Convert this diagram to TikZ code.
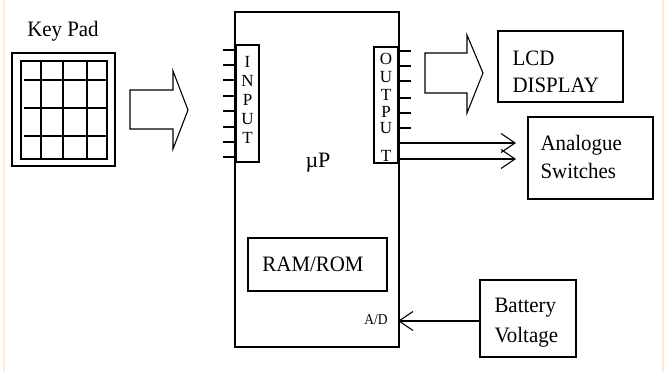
\documentclass[tikz,border=0pt]{standalone}
\usepackage{fontspec}
\setmainfont{Liberation Serif}
\usetikzlibrary{arrows.meta}
\definecolor{edgeline}{RGB}{253,236,200}
\begin{document}
\begin{tikzpicture}[x=1pt,y=-1pt, line width=1.1pt,
  box/.style={draw, inner sep=0pt, outer sep=0pt, anchor=north west},
  big/.style={font=\fontsize{22}{28}\selectfont, inner sep=0pt},
  small/.style={font=\fontsize{17}{19}\selectfont, inner sep=0pt},
  tiny/.style={font=\fontsize{15}{17}\selectfont, inner sep=0pt},
  barb/.style={-{Straight Barb[length=14pt,width=19pt]}},
  blockarrow/.style={draw, line width=1.1pt, fill=white, line join=miter}]
\useasboundingbox (0,0) rectangle (665,372);
\fill[white] (0,0) rectangle (665,372);
\draw[edgeline, line width=1.8pt] (3.7,0) -- (3.7,372) (663.3,0) -- (663.3,372);

% Key pad
\node[big, anchor=base] (kplabel) at (63,36) {\scalebox{0.95}[1]{Key Pad}};
\node[box, minimum width=103pt, minimum height=113pt] (kp) at (12,53) {};
\node[box, minimum width=86pt, minimum height=98pt] (kpin) at (21,61) {};
\foreach \x in {41,63,87} \draw (\x,61) -- (\x,159);
\foreach \y in {80,108,136} \draw (24,\y) -- (107,\y);

% block arrow keypad -> input
\draw[blockarrow] (130,90) -- (173,90) -- (173,71) -- (188,110) -- (173,149) -- (173,129) -- (130,129) -- cycle;

% microprocessor
\node[box, minimum width=164pt, minimum height=335pt] (mp) at (235,12) {};
\node[big, anchor=base] (mplabel) at (318,167) {µP};

% input port
\node[box, minimum width=23pt, minimum height=117pt] (inbox) at (236,45) {};
\foreach \l/\y [count=\i] in {I/62,N/81,P/100,U/119,T/138}
  \node[small] (in\i) at (247.5,\y) {\l};
\foreach \y in {50,65,80,96,111,127,142,157} \draw (223,\y) -- (236,\y);

% output port
\node[box, minimum width=24pt, minimum height=116pt] (outbox) at (374,47) {};
\foreach \l/\y [count=\i] in {O/58.5,U/77,T/95,P/112,U/128.5,T/156}
  \node[small] (out\i) at (386,\y) {\l};
\foreach \y in {51,66,81,98,113,128} \draw (399,\y) -- (411,\y);

% block arrow output -> LCD
\draw[blockarrow] (425,53) -- (467,53) -- (467,35) -- (483,73) -- (467,113) -- (467,93) -- (425,93) -- cycle;

% LCD display
\node[box, minimum width=125pt, minimum height=71pt] (lcd) at (498,31) {};
\node[big, anchor=base west] (lcd1) at (512,65) {\scalebox{0.95}[1]{LCD}};
\node[big, anchor=base west] (lcd2) at (512,92) {\scalebox{0.95}[1]{DISPLAY}};

% analogue switches
\node[box, minimum width=125pt, minimum height=82pt] (asw) at (528,117) {};
\node[big, anchor=base west] (asw1) at (540,150) {\scalebox{0.95}[1]{Analogue}};
\node[big, anchor=base west] (asw2) at (540,178) {\scalebox{0.95}[1]{Switches}};
\coordinate (o1) at (399,143);
\coordinate (o2) at (399,159);
\coordinate (s1) at (516,143);
\coordinate (s2) at (516,159);
\draw[barb] (o1) -- (s1);
\draw[barb] (o2) -- (s2);

% RAM/ROM
\node[box, minimum width=139pt, minimum height=53pt] (ram) at (248,238) {};
\node[big, anchor=base] (ramlabel) at (313,271) {\scalebox{0.95}[1]{RAM/ROM}};

% battery voltage
\node[box, minimum width=96pt, minimum height=77pt] (bat) at (480,280) {};
\node[big, anchor=base west] (bat1) at (494,312) {\scalebox{0.95}[1]{Battery}};
\node[big, anchor=base west] (bat2) at (494,342) {\scalebox{0.95}[1]{Voltage}};
\node[tiny, anchor=base] (ad) at (376,324) {\scalebox{0.9}[1]{A/D}};
\coordinate (adin) at (398,321);
\coordinate (batout) at (480,321);
\draw[barb] (batout) -- (adin);
\end{tikzpicture}
\end{document}
